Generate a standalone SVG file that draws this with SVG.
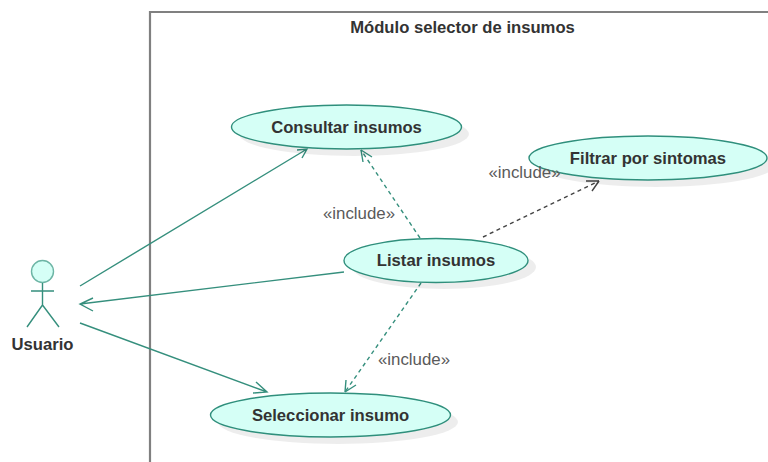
<svg xmlns="http://www.w3.org/2000/svg" width="768" height="462" viewBox="0 0 768 462">
<style>
text{font-family:"Liberation Sans",Arial,sans-serif;text-anchor:middle}
.uc{fill:#d5fff6;stroke:#2f8f7c;stroke-width:1.4}
.sh{fill:#000;fill-opacity:.07}
.n{font-size:16.650px;font-weight:700;fill:#333}
.lbl{font-size:16.850px;fill:#5a5a5a}
.c{fill:none;stroke:#358f7d;stroke-width:1.400}
.d{stroke-dasharray:4 3.500}
.k{stroke:#444}
</style>
<rect width="768" height="462" fill="#fff"/>
<g id="boundary"><path d="M150 462V12H768" fill="none" stroke="#808080" stroke-width="2.200"/><text x="462.500" y="33" class="n">Módulo selector de insumos</text></g>
<g id="actor">
<circle cx="42.500" cy="271.500" r="11" fill="#d5fff6" stroke="#6db5a5" stroke-width="1.400"/>
<path class="c" d="M42.500 283V305M31 291H54M42.500 305L27 327M42.500 305L59 327"/>
<text x="42.500" y="350" class="n">Usuario</text>
</g>
<g id="connectors">
<path class="c" d="M80 286L307 149M297 150L307 149L302 158"/>
<path class="c" d="M344 272L80 304M93 298L80 304L93 311"/>
<path class="c" d="M80 323L267 392M256 382L267 392L253 393"/>
<path class="c d" d="M420 238L361 150"/>
<path class="c" d="M361 150L372 157M361 150L363 162"/>
<path class="c d k" d="M483 237L599 181"/>
<path class="c k" d="M599 181L586 181M599 181L592 191"/>
<path class="c d" d="M421 283L345 392"/>
<path class="c" d="M345 392L346 380M345 392L356 385"/>
</g>
<g id="consultar"><ellipse class="sh" cx="354" cy="134" rx="115" ry="22"/><ellipse class="uc" cx="346.500" cy="127" rx="115" ry="22"/><text x="346.500" y="132.500" class="n">Consultar insumos</text></g>
<g id="filtrar"><ellipse class="sh" cx="656" cy="165" rx="119" ry="22"/><ellipse class="uc" cx="648" cy="158" rx="119" ry="22"/><text x="648" y="163.500" class="n">Filtrar por sintomas</text></g>
<g id="listar"><ellipse class="sh" cx="444" cy="267" rx="92" ry="22"/><ellipse class="uc" cx="436" cy="260.500" rx="92" ry="22"/><text x="436" y="266" class="n">Listar insumos</text></g>
<g id="seleccionar"><ellipse class="sh" cx="338" cy="422" rx="120" ry="22"/><ellipse class="uc" cx="330.500" cy="415" rx="120" ry="22"/><text x="330.500" y="421" class="n">Seleccionar insumo</text></g>
<g id="labels">
<text x="359" y="219" class="lbl">«include»</text>
<text x="524.500" y="178" class="lbl">«include»</text>
<text x="414" y="365" class="lbl">«include»</text>
</g>
</svg>
